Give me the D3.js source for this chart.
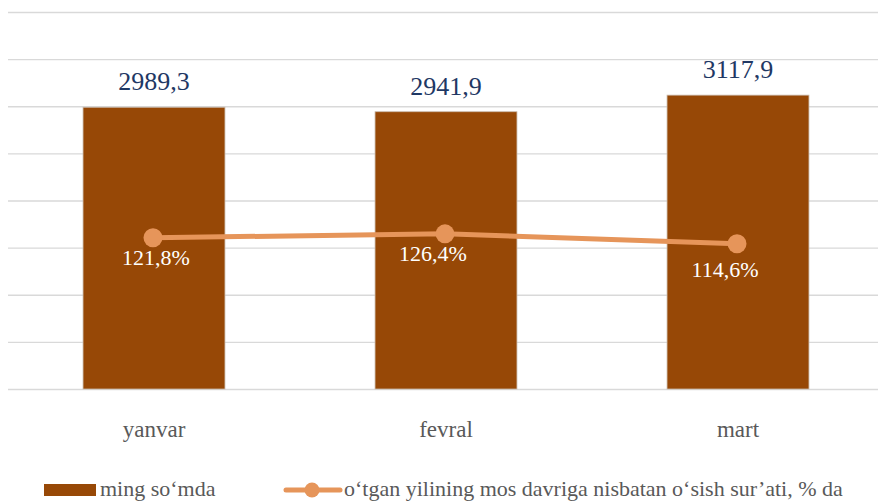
<!DOCTYPE html>
<html>
<head>
<meta charset="utf-8">
<script src="https://cdn.jsdelivr.net/npm/d3@7"></script>
<style>
  html, body { margin: 0; padding: 0; background: #fff; overflow: hidden; }
  svg { display: block; }
  text { font-family: "Liberation Serif", "Times New Roman", serif; }
</style>
</head>
<body>
<svg id="chart" width="878" height="502"></svg>
<script>
// ---- data ----
const categories = ["yanvar", "fevral", "mart"];
const barValues = [2989.3, 2941.9, 3117.9];
const growthValues = [121.8, 126.4, 114.6];
const barLabels = ["2989,3", "2941,9", "3117,9"];
const growthLabels = ["121,8%", "126,4%", "114,6%"];
const leftTicks = [0, 500, 1000, 1500, 2000, 2500, 3000, 3500, 4000];
const seriesNames = ["ming so‘mda", "o‘tgan yilining mos davriga nisbatan o‘sish sur’ati, % da"];

// ---- layout (not data) ----
const plot = { left: 8, right: 884, top: 12, bottom: 389 };
const growthLabelNudge = [[3, 27], [-12, 27], [-12, 33]];
const barColor = "#974806";
const lineColor = "#E6955A";
const labelColor = "#1F3864";
const textGrey = "#595959";
const serif = "Liberation Serif, Times New Roman, serif";

const svg = d3.select("#chart");

const x = d3.scaleBand()
  .domain(categories)
  .range([plot.left, plot.right])
  .paddingInner(0.514)
  .paddingOuter(0.257);

const y = d3.scaleLinear().domain([0, 4000]).range([plot.bottom, plot.top]);
const y2 = d3.scaleLinear().domain([-60, 393]).range([plot.bottom, plot.top]);

// gridlines via axis
const grid = svg.append("g")
  .attr("transform", `translate(${plot.left},0)`)
  .call(d3.axisRight(y).tickValues(leftTicks).tickSize(878 - plot.left).tickFormat(""));
grid.select(".domain").remove();
grid.selectAll(".tick line").attr("stroke", "#D9D9D9").attr("stroke-width", 1.3);

// bars
svg.append("g").selectAll("rect")
  .data(categories)
  .join("rect")
  .attr("x", d => x(d))
  .attr("y", (d, i) => y(barValues[i]))
  .attr("width", x.bandwidth())
  .attr("height", (d, i) => y(0) - y(barValues[i]))
  .attr("fill", barColor)
  .attr("stroke", "#C9B9AA")
  .attr("stroke-width", 0.8);

// bar labels
svg.append("g").selectAll("text")
  .data(categories)
  .join("text")
  .attr("x", d => x(d) + x.bandwidth() / 2)
  .attr("y", (d, i) => y(barValues[i]) - 17)
  .attr("text-anchor", "middle")
  .attr("font-family", serif)
  .attr("font-size", 26)
  .attr("fill", labelColor)
  .text((d, i) => barLabels[i]);

// category axis labels
const xAxis = svg.append("g")
  .attr("transform", `translate(0,${plot.bottom})`)
  .call(d3.axisBottom(x).tickSize(0).tickPadding(0));
xAxis.select(".domain").remove();
xAxis.selectAll(".tick text")
  .attr("dy", null)
  .attr("y", 48)
  .attr("font-size", 23)
  .attr("font-family", serif)
  .attr("fill", textGrey);

// line
const cx = d => x(d) + x.bandwidth() / 2 - 1;
const line = d3.line()
  .x(d => cx(d))
  .y((d, i) => y2(growthValues[i]));
svg.append("path")
  .datum(categories)
  .attr("d", line)
  .attr("fill", "none")
  .attr("stroke", lineColor)
  .attr("stroke-width", 5)
  .attr("stroke-linecap", "round");

svg.append("g").selectAll("circle")
  .data(categories)
  .join("circle")
  .attr("cx", d => cx(d))
  .attr("cy", (d, i) => y2(growthValues[i]))
  .attr("r", 9.5)
  .attr("fill", lineColor);

svg.append("g").selectAll("text")
  .data(categories)
  .join("text")
  .attr("x", (d, i) => cx(d) + growthLabelNudge[i][0])
  .attr("y", (d, i) => y2(growthValues[i]) + growthLabelNudge[i][1])
  .attr("text-anchor", "middle")
  .attr("font-family", serif)
  .attr("font-size", 22)
  .attr("fill", "#FFFFFF")
  .text((d, i) => growthLabels[i]);

// legend
const lg = svg.append("g").attr("font-family", serif);
lg.append("rect").attr("x", 44).attr("y", 484).attr("width", 52).attr("height", 12).attr("fill", barColor);
lg.append("text").attr("x", 100).attr("y", 496).attr("font-size", 22).attr("fill", textGrey).text(seriesNames[0]);
lg.append("line").attr("x1", 286).attr("x2", 340).attr("y1", 490).attr("y2", 490)
  .attr("stroke", lineColor).attr("stroke-width", 5).attr("stroke-linecap", "round");
lg.append("circle").attr("cx", 312).attr("cy", 490).attr("r", 7.5).attr("fill", lineColor);
lg.append("text").attr("x", 344).attr("y", 496).attr("font-size", 22).attr("fill", textGrey).text(seriesNames[1]);
</script>
</body>
</html>
